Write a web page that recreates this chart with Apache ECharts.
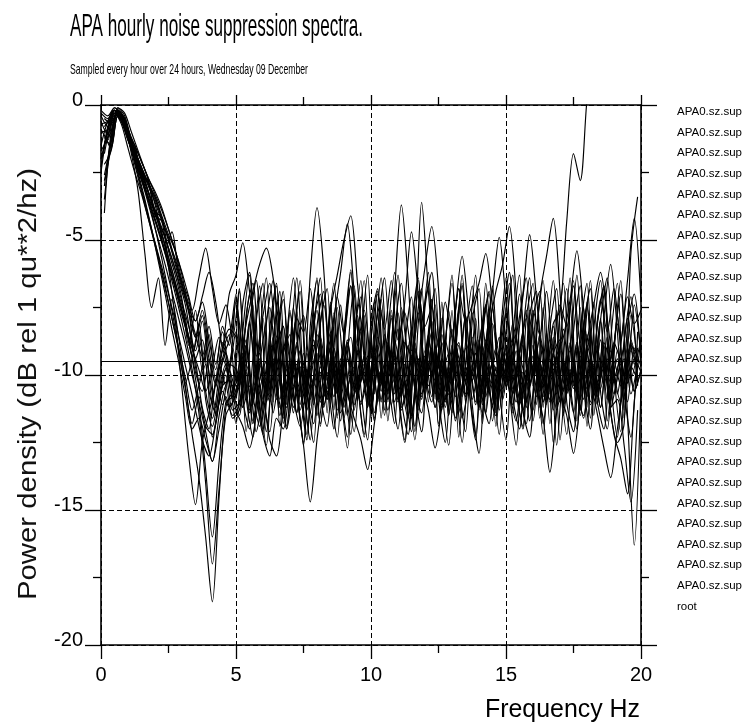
<!DOCTYPE html>
<html><head><meta charset="utf-8">
<script src="https://cdn.jsdelivr.net/npm/echarts@6/dist/echarts.min.js"></script>
<style>html,body{margin:0;padding:0;background:#fff}#c{width:748px;height:724px}</style>
</head><body><div id="c"></div>
<script>
// frequency grids (Hz): hours alternate between two sampling grids
const freqA = [0,0.25,0.5,0.75,1,1.25,1.5,1.75,2,2.25,2.5,2.75,3,3.25,3.5,3.75,4,4.25,4.5,4.75,5,5.25,5.5,5.75,6,6.25,6.5,6.75,7,7.25,7.5,7.75,8,8.25,8.5,8.75,9,9.25,9.5,9.75,10,10.25,10.5,10.75,11,11.25,11.5,11.75,12,12.25,12.5,12.75,13,13.25,13.5,13.75,14,14.25,14.5,14.75,15,15.25,15.5,15.75,16,16.25,16.5,16.75,17,17.25,17.5,17.75,18,18.25,18.5,18.75,19,19.25,19.5,19.75,20];
const freqB = [0.125,0.375,0.625,0.875,1.125,1.375,1.625,1.875,2.125,2.375,2.625,2.875,3.125,3.375,3.625,3.875,4.125,4.375,4.625,4.875,5.125,5.375,5.625,5.875,6.125,6.375,6.625,6.875,7.125,7.375,7.625,7.875,8.125,8.375,8.625,8.875,9.125,9.375,9.625,9.875,10.125,10.375,10.625,10.875,11.125,11.375,11.625,11.875,12.125,12.375,12.625,12.875,13.125,13.375,13.625,13.875,14.125,14.375,14.625,14.875,15.125,15.375,15.625,15.875,16.125,16.375,16.625,16.875,17.125,17.375,17.625,17.875,18.125,18.375,18.625,18.875,19.125,19.375,19.625,19.875];

// power density (dB) per hour
const h01 = [-2.5,-0.9,-0.2,-0.5,-1.3,-2.0,-2.7,-3.4,-4.0,-4.6,-5.3,-6.1,-7.2,-8.9,-7.6,-9.8,-8.5,-10.2,-9.0,-8.3,
 -8.6,-10.2,-8.1,-9.9,-7.9,-10.8,-9.0,-8.2,-10.4,-8.8,-11.1,-9.3,-7.6,-9.8,-8.4,-10.6,-8.9,-9.7,-7.8,-10.3,
 -9.1,-11.0,-8.5,-9.6,-7.7,-10.1,-8.3,-10.9,-9.4,-8.0,-10.5,-8.7,-9.9,-7.5,-10.2,-8.6,-11.2,-9.0,-8.1,-10.0,
 -8.4,-10.7,-9.2,-7.9,-10.4,-8.5,-9.8,-8.1,-7.6,-4.3,-1.8,-2.8,0.2,2.0,3.0,3.5,4.0,4.0,4.5,4.5,5.0];
const h02 = [-3.0,-1.2,-0.1,-0.3,-1.0,-1.7,-2.4,-3.2,-4.2,-5.4,-4.7,-6.2,-7.0,-7.6,-6.4,-5.3,-6.8,-8.1,-7.4,-8.6,
 -6.8,-10.9,-7.4,-11.6,-8.1,-6.5,-10.2,-12.0,-8.6,-6.9,-10.8,-7.7,-11.9,-9.0,-6.6,-10.5,-12.3,-8.4,-7.1,-11.2,
 -8.9,-6.4,-10.0,-11.8,-7.5,-9.6,-12.1,-8.2,-6.7,-10.7,-7.9,-11.5,-9.3,-6.3,-10.4,-12.4,-8.5,-7.0,-11.0,-8.0,
 -6.2,-10.6,-11.9,-7.6,-9.4,-12.2,-8.3,-6.8,-10.3,-7.4,-11.7,-9.1,-6.5,-10.9,-12.0,-8.7,-6.6,-11.3,-7.8,-9.5];
const h03 = [-1.5,-0.6,-0.2,-0.6,-1.3,-1.9,-2.4,-2.9,-3.4,-4.1,-4.8,-5.4,-6.3,-7.5,-8.0,-7.1,-6.2,-7.3,-8.9,-7.0,
 -6.3,-5.1,-6.9,-8.8,-10.4,-8.9,-10.9,-9.2,-8.5,-10.6,-9.7,-11.4,-8.8,-10.1,-9.0,-11.3,-9.6,-8.6,-10.5,-9.3,
 -11.0,-8.9,-10.3,-9.8,-8.3,-10.8,-9.4,-11.5,-9.1,-10.0,-8.6,-10.9,-9.5,-8.8,-10.7,-9.9,-11.2,-8.7,-9.6,-10.4,
 -8.9,-11.1,-9.3,-10.2,-8.4,-9.9,-11.0,-9.2,-8.7,-10.6,-9.5,-11.3,-8.9,-9.8,-10.5,-8.6,-10.1,-9.4,-11.0,-9.0,-9.7];
const h04 = [-0.8,-0.5,-0.3,-0.7,-1.6,-2.4,-3.1,-3.9,-4.6,-5.4,-6.3,-7.2,-8.1,-9.0,-9.8,-10.6,-9.7,-8.6,-9.5,-10.4,
 -9.6,-8.1,-6.9,-5.9,-5.3,-6.4,-8.5,-10.6,-9.4,-11.3,-10.0,-8.9,-10.8,-11.9,-9.7,-10.5,-8.8,-11.1,-10.2,-9.3,
 -11.4,-9.9,-10.7,-8.7,-10.3,-11.6,-9.5,-10.9,-9.0,-11.2,-10.1,-9.2,-11.7,-10.4,-9.6,-11.0,-8.9,-10.6,-11.5,-9.8,
 -10.2,-9.1,-11.3,-10.5,-9.4,-11.8,-10.0,-9.7,-11.1,-8.9,-10.4,-11.6,-9.5,-10.8,-9.3,-11.2,-10.1,-9.0,-10.7,-9.6];
const h05 = [-2.0,-1.0,-0.2,-0.4,-1.2,-1.6,-2.6,-2.9,-3.9,-4.2,-5.4,-6.3,-7.3,-8.2,-9.1,-8.0,-9.9,-11.2,-9.4,-8.7,
 -7.0,-11.2,-8.1,-6.5,-10.6,-12.1,-8.8,-6.9,-11.4,-7.6,-10.3,-6.3,-3.8,-6.1,-10.4,-12.3,-8.5,-6.7,-10.9,-7.8,
 -11.6,-8.3,-6.4,-10.1,-12.0,-8.9,-7.1,-11.3,-7.5,-6.2,-10.8,-12.5,-9.0,-6.8,-11.0,-7.7,-10.2,-6.6,-9.8,-12.2,
 -8.4,-6.3,-10.5,-11.8,-7.9,-6.9,-11.1,-8.6,-12.4,-9.2,-6.5,-10.7,-7.3,-11.5,-8.0,-6.4,-10.0,-12.1,-8.2,-7.0,-9.6];
const h06 = [-1.2,-1.5,-0.4,-0.6,-1.4,-2.2,-2.9,-3.6,-4.2,-4.9,-5.7,-6.5,-7.4,-8.9,-10.2,-9.1,-11.0,-9.6,-10.4,-9.0,
 -10.4,-8.9,-11.1,-9.5,-10.2,-8.6,-10.9,-9.8,-11.4,-9.1,-10.0,-8.7,-10.6,-9.3,-7.9,-6.2,-4.4,-6.9,-9.6,-10.8,
 -9.2,-11.0,-8.8,-10.3,-9.7,-11.5,-9.0,-10.1,-8.5,-10.7,-9.4,-11.2,-8.9,-9.9,-10.6,-8.7,-10.4,-9.6,-11.3,-9.1,
 -10.0,-8.6,-10.9,-9.3,-10.5,-11.6,-13.6,-11.4,-9.5,-10.8,-8.8,-10.2,-9.7,-11.1,-8.9,-10.3,-9.4,-10.9,-8.7,-9.8];
const h07 = [-0.6,-1.1,-0.3,-0.5,-1.1,-1.7,-2.3,-2.9,-3.4,-4.2,-5.0,-5.7,-6.6,-7.7,-8.6,-7.8,-9.4,-10.3,-8.8,-9.7,
 -8.4,-9.9,-8.0,-10.3,-8.7,-7.5,-9.6,-8.2,-10.4,-8.9,-7.8,-9.7,-8.5,-10.1,-7.6,-6.3,-5.0,-4.1,-6.6,-9.2,
 -10.3,-8.6,-9.8,-7.9,-10.5,-8.8,-9.3,-7.7,-10.0,-8.4,-9.6,-11.0,-8.3,-9.5,-7.8,-10.2,-8.9,-7.4,-9.7,-8.6,
 -10.4,-8.1,-9.2,-7.6,-10.0,-8.7,-9.9,-8.2,-10.6,-11.5,-12.9,-10.9,-8.5,-9.7,-8.0,-10.3,-8.8,-9.4,-7.9,-9.6,-8.7];
const h08 = [-2.8,-1.6,-0.1,-0.4,-1.3,-2.1,-2.8,-3.6,-4.4,-5.2,-6.1,-7.0,-7.9,-9.3,-8.1,-10.6,-11.6,-10.1,-9.2,-10.5,
 -11.5,-7.8,-6.6,-10.4,-12.6,-8.7,-6.9,-11.1,-7.5,-10.0,-12.2,-8.3,-6.4,-10.8,-7.9,-11.7,-9.2,-6.7,-10.5,-12.4,
 -8.6,-7.2,-11.0,-6.9,-3.7,-6.5,-10.6,-12.1,-8.4,-6.8,-11.3,-7.6,-10.1,-12.5,-8.9,-6.3,-10.7,-7.7,-11.9,-9.0,
 -6.6,-10.3,-12.0,-7.8,-6.9,-11.2,-8.5,-12.6,-9.4,-6.4,-10.9,-7.5,-11.6,-8.2,-6.7,-10.2,-12.3,-8.8,-7.1,-10.4];
const h09 = [-0.4,-0.8,-0.2,-0.5,-1.2,-1.5,-2.6,-2.8,-4.1,-4.3,-5.8,-6.7,-7.6,-8.6,-9.5,-11.2,-12.0,-10.3,-11.1,-9.8,
 -10.6,-9.2,-11.3,-9.8,-10.9,-8.9,-10.4,-11.6,-9.5,-10.8,-12.6,-14.7,-12.4,-10.5,-9.0,-10.7,-9.4,-11.2,-9.1,-10.3,
 -8.8,-10.9,-9.6,-11.1,-9.2,-7.3,-4.7,-7.0,-9.9,-11.0,-9.3,-10.6,-8.9,-11.4,-9.7,-10.2,-8.7,-10.8,-9.5,-11.3,
 -9.0,-10.5,-9.8,-11.2,-8.9,-10.1,-9.4,-11.0,-8.8,-10.7,-9.6,-11.5,-9.2,-10.3,-8.7,-10.9,-9.5,-10.4,-9.0,-10.6,-9.8];
const h10 = [-1.8,-0.7,-0.3,-0.8,-1.7,-2.7,-3.7,-4.7,-5.7,-6.8,-7.9,-9.0,-10.1,-11.3,-10.4,-9.6,-12.3,-11.0,-10.0,-11.3,
 -11.0,-9.6,-10.8,-11.9,-10.2,-9.4,-11.5,-10.0,-11.2,-9.5,-10.7,-11.8,-9.9,-10.9,-9.3,-11.4,-10.5,-9.7,-11.1,-10.2,
 -11.7,-9.8,-10.6,-9.4,-11.3,-10.1,-8.4,-3.6,-6.9,-9.9,-11.2,-10.3,-9.5,-11.6,-10.4,-9.2,-10.9,-11.8,-9.7,-10.5,
 -9.3,-11.0,-10.2,-11.7,-9.6,-10.8,-9.4,-11.3,-10.0,-9.1,-10.7,-11.5,-9.8,-10.6,-9.5,-11.2,-10.9,-12.6,-14.7,-11.3];
const h11 = [-0.3,-0.5,-0.2,-0.4,-1.0,-1.7,-2.3,-2.9,-3.5,-4.2,-5.0,-5.9,-6.8,-7.6,-8.5,-9.3,-8.2,-9.6,-8.4,-9.9,
 -7.1,-10.9,-12.0,-8.0,-6.6,-10.7,-7.8,-11.8,-9.1,-6.4,-10.3,-12.4,-8.2,-6.9,-11.1,-7.5,-10.0,-12.2,-8.7,-6.5,
 -10.6,-7.7,-11.5,-8.9,-6.3,-10.2,-12.1,-8.1,-6.0,-4.5,-6.8,-11.0,-7.6,-12.3,-8.8,-6.7,-10.5,-7.4,-11.7,-9.0,
 -6.4,-10.8,-12.0,-7.9,-6.6,-11.2,-8.4,-12.5,-8.9,-6.8,-10.4,-7.5,-11.9,-8.3,-6.5,-10.1,-12.2,-13.1,-14.4,-11.0,-8.6];
const h12 = [-3.5,-1.3,-0.3,-0.5,-1.5,-2.5,-3.5,-4.6,-5.8,-7.0,-8.3,-9.5,-10.8,-12.0,-11.6,-12.4,-13.2,-11.5,-10.4,-11.6,
 -11.3,-9.9,-11.8,-10.4,-12.1,-10.0,-11.2,-9.6,-10.9,-11.9,-10.3,-9.5,-11.0,-10.6,-12.0,-9.8,-10.7,-11.6,-12.4,-13.5,
 -11.8,-10.1,-11.3,-9.4,-10.8,-8.9,-10.5,-11.4,-9.6,-10.2,-8.8,-10.6,-7.6,-5.6,-7.8,-10.0,-11.4,-9.7,-10.9,-9.2,
 -10.6,-11.7,-9.9,-10.3,-8.9,-11.0,-10.1,-9.3,-11.2,-9.8,-10.7,-9.0,-11.1,-10.4,-9.5,-10.9,-9.1,-10.5,-9.7,-10.2];
const h13 = [-1.0,-0.9,-0.2,-0.3,-0.9,-1.5,-2.1,-2.7,-3.3,-3.9,-4.6,-5.4,-6.2,-7.1,-8.0,-7.3,-8.7,-9.8,-8.2,-8.9,
 -7.3,-8.9,-7.0,-9.3,-7.8,-6.6,-8.6,-7.2,-9.5,-7.9,-8.4,-6.8,-8.8,-7.4,-9.2,-7.1,-8.5,-6.7,-8.9,-7.6,
 -9.4,-7.0,-8.3,-6.5,-8.7,-7.7,-9.1,-6.9,-8.2,-7.5,-9.0,-7.3,-8.6,-6.8,-8.0,-7.4,-6.6,-5.5,-7.4,-9.2,
 -7.8,-8.9,-7.0,-9.4,-7.6,-8.5,-6.9,-9.0,-7.4,-8.2,-6.7,-8.8,-7.5,-9.3,-7.2,-8.4,-6.8,-8.7,-7.1,-8.1,-7.6];
const h14 = [-2.2,-1.7,-0.4,-0.7,-1.6,-2.6,-3.6,-4.6,-5.6,-6.7,-7.9,-9.1,-10.5,-11.8,-10.8,-11.9,-12.2,-11.0,-9.8,-10.9,
 -8.2,-12.1,-9.4,-6.7,-10.8,-7.5,-11.9,-8.6,-6.4,-10.3,-12.4,-8.0,-7.0,-11.4,-7.7,-10.6,-12.7,-8.9,-6.5,-10.1,
 -7.3,-11.6,-8.4,-6.2,-10.9,-12.2,-8.7,-6.8,-11.0,-7.4,-10.5,-12.6,-9.1,-6.6,-10.2,-7.9,-11.8,-8.3,-6.9,-5.9,
 -4.5,-7.0,-11.3,-12.3,-8.5,-6.5,-10.7,-7.6,-11.5,-9.2,-6.3,-10.4,-12.0,-8.1,-6.8,-11.1,-7.8,-10.6,-12.3,-8.4];
const h15 = [-0.9,-1.3,-0.3,-0.6,-1.3,-2.0,-2.8,-3.5,-4.3,-5.1,-5.9,-6.8,-7.8,-8.7,-9.9,-10.6,-9.4,-11.5,-10.1,-9.6,
 -9.8,-11.2,-10.4,-12.1,-11.0,-12.4,-13.0,-11.3,-10.1,-11.4,-9.6,-10.9,-9.2,-11.1,-10.3,-9.5,-11.6,-10.0,-10.8,-9.3,
 -11.2,-9.9,-10.6,-9.1,-10.9,-10.2,-11.5,-9.4,-10.7,-9.0,-11.0,-9.8,-10.4,-8.9,-10.8,-9.6,-11.3,-8.8,-6.9,-4.9,
 -7.3,-9.6,-11.1,-10.2,-11.7,-9.5,-10.6,-9.2,-11.0,-10.1,-11.4,-9.3,-10.5,-9.9,-11.2,-9.0,-10.7,-9.6,-10.3,-9.4,-9.9];
const h16 = [-1.4,-1.0,-0.2,-0.5,-1.4,-2.2,-3.1,-4.0,-5.1,-6.3,-7.6,-9.0,-10.3,-9.4,-8.4,-10.9,-11.9,-10.5,-9.6,-10.8,
 -10.2,-8.9,-10.8,-9.4,-11.0,-9.7,-8.6,-10.5,-9.2,-11.1,-9.8,-10.4,-8.8,-10.9,-9.5,-10.1,-8.7,-10.6,-9.3,-11.2,
 -9.6,-10.3,-8.9,-10.7,-9.4,-11.0,-9.1,-10.2,-11.3,-12.7,-11.2,-9.7,-10.8,-8.9,-10.4,-9.6,-11.1,-9.0,-10.5,-9.2,
 -10.0,-8.6,-7.0,-4.8,-7.1,-9.7,-10.9,-9.3,-10.6,-8.8,-10.2,-9.5,-11.0,-8.9,-10.4,-9.1,-10.7,-9.4,-10.1,-9.0];
const h17 = [-0.7,-0.6,-0.1,-0.3,-1.0,-1.5,-2.1,-2.7,-3.2,-3.8,-4.6,-5.4,-6.5,-7.2,-8.6,-7.6,-9.0,-10.4,-9.1,-8.5,
 -10.9,-7.4,-6.2,-10.1,-12.0,-8.3,-6.6,-11.2,-7.7,-10.4,-12.5,-8.8,-6.4,-10.7,-7.3,-11.6,-8.5,-6.1,-10.2,-12.2,
 -8.0,-6.8,-11.0,-7.6,-10.5,-12.4,-8.7,-6.5,-10.9,-7.2,-11.8,-8.9,-6.3,-10.3,-7.8,-11.1,-12.9,-9.3,-6.7,-10.6,
 -7.5,-11.4,-8.2,-6.4,-10.0,-7.1,-5.6,-4.2,-6.9,-11.0,-12.1,-8.4,-6.6,-10.8,-7.9,-11.7,-9.0,-6.5,-10.3,-7.4,-9.2];
const h18 = [-2.6,-1.4,-0.3,-0.6,-1.5,-2.3,-3.2,-4.1,-5.0,-5.9,-6.9,-7.9,-8.9,-10.0,-11.0,-12.1,-13.2,-12.0,-10.8,-11.5,
 -11.1,-9.8,-11.7,-10.2,-9.5,-11.4,-10.0,-12.0,-10.6,-9.7,-11.3,-10.1,-11.8,-9.9,-10.8,-9.4,-11.5,-10.3,-11.0,-9.6,
 -11.6,-10.0,-10.9,-9.3,-11.2,-10.5,-11.9,-9.8,-10.4,-9.5,-11.1,-10.7,-11.6,-9.7,-10.3,-9.2,-10.9,-10.1,-11.4,-9.6,
 -10.5,-9.9,-11.3,-9.4,-10.8,-9.7,-11.0,-9.3,-8.6,-7.2,-5.4,-7.6,-10.1,-11.4,-12.7,-13.8,-12.0,-10.2,-9.1,-9.8];
const h19 = [-1.7,-1.2,-0.2,-0.4,-1.2,-1.8,-2.4,-3.0,-3.6,-4.3,-4.9,-5.8,-6.7,-7.6,-9.4,-8.7,-10.6,-11.4,-10.4,-10.2,
 -11.3,-11.9,-12.7,-11.5,-10.1,-11.0,-9.4,-10.8,-9.7,-11.4,-9.2,-10.5,-9.9,-11.2,-9.5,-10.7,-9.0,-11.1,-10.2,-9.6,
 -11.3,-9.8,-10.4,-9.1,-10.9,-9.6,-11.5,-10.0,-9.3,-10.8,-9.7,-11.2,-9.4,-10.5,-9.0,-10.9,-9.8,-11.4,-9.5,-10.1,
 -9.2,-10.7,-9.6,-11.0,-9.3,-10.6,-9.8,-11.3,-9.1,-10.4,-9.7,-10.9,-8.8,-7.4,-6.2,-7.9,-9.9,-11.0,-9.5,-10.6,-9.8];
const h20 = [-0.5,-0.7,-0.2,-0.5,-1.3,-2.0,-2.8,-3.6,-4.4,-5.2,-6.1,-7.1,-8.2,-9.4,-11.0,-13.5,-16.0,-13.2,-11.0,-10.8,
 -6.9,-10.8,-12.3,-8.6,-6.4,-11.0,-7.7,-11.9,-9.2,-6.5,-10.5,-12.5,-8.1,-6.8,-11.3,-7.4,-10.2,-12.1,-8.9,-6.3,
 -10.7,-7.6,-11.7,-8.4,-6.6,-10.0,-12.4,-8.8,-6.2,-10.9,-7.3,-11.5,-9.0,-6.7,-10.4,-12.2,-8.3,-6.9,-11.2,-7.8,
 -10.6,-12.6,-8.5,-6.4,-11.1,-7.5,-11.8,-9.3,-6.6,-10.3,-12.0,-8.2,-6.8,-10.9,-7.9,-5.9,-8.4,-11.6,-8.8,-10.1];
const h21 = [-2.3,-0.8,-0.3,-0.7,-1.6,-2.5,-3.3,-4.2,-5.1,-6.0,-7.0,-8.0,-9.1,-10.2,-11.3,-12.4,-13.0,-11.8,-10.6,-11.2,
 -10.7,-9.5,-11.4,-10.3,-12.2,-13.0,-11.6,-12.0,-10.4,-9.6,-11.1,-10.0,-11.5,-9.3,-10.8,-9.8,-11.2,-9.5,-10.6,-9.9,
 -11.3,-9.2,-10.7,-9.6,-11.0,-10.3,-11.6,-9.4,-10.5,-9.0,-10.9,-9.7,-11.4,-9.5,-10.2,-9.1,-10.8,-9.9,-11.1,-9.6,
 -10.4,-9.2,-10.9,-9.8,-11.3,-9.5,-10.6,-9.3,-11.0,-9.7,-10.5,-9.1,-10.8,-9.6,-11.2,-9.4,-10.3,-8.9,-6.5,-4.2,-7.3];
const h22 = [-1.1,-1.6,-0.4,-0.6,-1.4,-2.2,-3.0,-3.8,-4.6,-5.5,-6.5,-7.5,-8.6,-9.8,-11.4,-14.0,-17.0,-14.2,-11.5,-11.0,
 -10.4,-9.1,-11.0,-9.6,-10.7,-8.9,-10.3,-11.2,-9.5,-10.8,-9.2,-11.1,-9.7,-10.5,-9.0,-10.9,-9.4,-11.3,-9.8,-10.2,
 -9.1,-10.6,-9.5,-11.0,-9.3,-10.4,-8.8,-10.7,-9.6,-11.2,-9.4,-10.1,-9.0,-10.8,-9.7,-11.1,-9.2,-10.5,-9.8,-10.9,
 -9.3,-10.6,-8.9,-10.3,-9.6,-11.0,-9.1,-10.7,-9.5,-10.2,-8.8,-10.9,-9.4,-10.5,-9.7,-11.4,-12.5,-11.8,-5.5,-3.4];
const h23 = [-0.2,-0.4,-0.1,-0.4,-1.1,-1.8,-2.5,-3.2,-3.9,-4.7,-6.0,-8.0,-10.5,-13.0,-14.8,-12.5,-11.4,-10.3,-9.4,-10.2,
 -11.8,-8.4,-6.3,-10.6,-12.2,-8.9,-6.7,-11.1,-7.6,-10.3,-12.6,-8.2,-6.5,-10.8,-7.4,-11.5,-9.0,-6.2,-10.1,-12.3,
 -8.7,-6.9,-11.3,-7.8,-10.7,-12.5,-8.3,-6.4,-10.4,-7.2,-11.9,-8.8,-6.6,-10.2,-12.1,-8.0,-6.8,-11.4,-7.5,-10.5,
 -12.4,-8.6,-6.3,-10.9,-7.7,-11.6,-9.1,-6.5,-10.0,-12.2,-8.4,-6.7,-11.2,-7.3,-10.6,-12.0,-8.9,-7.0,-11.5,-16.3,-10.4];
const h24 = [-4.0,-1.0,-0.3,-0.7,-1.8,-3.2,-5.5,-7.5,-6.4,-8.9,-7.2,-8.6,-10.4,-12.2,-13.8,-16.0,-18.4,-14.5,-11.2,-10.6,
 -10.0,-8.7,-10.6,-9.2,-10.9,-8.9,-9.8,-8.5,-10.4,-9.1,-10.8,-9.5,-8.6,-10.2,-9.0,-10.7,-8.8,-9.9,-8.4,-10.5,
 -9.3,-10.9,-8.9,-9.6,-8.3,-10.1,-9.4,-10.8,-8.7,-9.7,-8.5,-10.3,-9.2,-10.6,-8.8,-9.5,-8.2,-10.0,-9.0,-10.7,
 -8.6,-9.8,-8.4,-10.4,-9.1,-10.2,-8.7,-9.6,-8.3,-10.5,-9.0,-9.9,-8.5,-10.3,-8.8,-9.4,-8.1,-10.0,-8.9,-9.3];

const spectra = [h01,h02,h03,h04,h05,h06,h07,h08,h09,h10,h11,h12,h13,h14,h15,h16,h17,h18,h19,h20,h21,h22,h23,h24];
const grids   = [freqA,freqB,freqA,freqB,freqA,freqB,freqA,freqB,freqA,freqB,freqA,freqB,freqA,freqB,freqA,freqB,freqA,freqB,freqA,freqB,freqA,freqB,freqA,freqB];
const spectrumLabel = 'APA0.sz.sup';
const rootLabel = 'root';
const rootFreq = [0, 20];
const rootLevel = [-9.5, -9.5];
const xRange = [0, 20];
const yRange = [-20, 0];

const titleText = 'APA hourly noise suppression spectra.';
const subtitleText = 'Sampled every hour over 24 hours, Wednesday 09 December';
const xName = 'Frequency Hz';
const yName = 'Power density (dB rel 1 qu**2/hz)';

const FONT = "'Liberation Sans', Arial, sans-serif";
const BLACK = '#000';

const mctx = document.createElement('canvas').getContext('2d');
function fitScale(text, size, target) {
  mctx.font = size + "px 'Liberation Sans', Arial, sans-serif";
  return target / mctx.measureText(text).width;
}

const series = spectra.map((vals, k) => {
  const g = grids[k];
  const n = Math.min(g.length, vals.length);
  const data = [];
  for (let i = 0; i < n; i++) data.push([g[i], vals[i]]);
  return {
    name: spectrumLabel + '#' + (k + 1),
    type: 'line', data, showSymbol: false, smooth: 0.3,
    lineStyle: { color: BLACK, width: 1.15 }, itemStyle: { color: BLACK },
    clip: true, silent: true
  };
});
series.push({
  name: rootLabel, type: 'line', showSymbol: false,
  data: rootFreq.map((f, i) => [f, rootLevel[i]]),
  lineStyle: { color: BLACK, width: 1.2 }, itemStyle: { color: BLACK }, silent: true
});

const tickStyle = { color: BLACK, width: 1.3 };
function axis(extra) {
  return Object.assign({
    type: 'value', interval: 5,
    axisLine: { show: true, onZero: false, lineStyle: { color: BLACK, width: 1.6 } },
    minorSplitLine: { show: false }
  }, extra);
}

const option = {
  animation: false,
  backgroundColor: '#fff',
  grid: { left: 101, right: 107, top: 105, bottom: 79, containLabel: false },
  legend: {
    orient: 'vertical', left: 667, top: 100, icon: 'none', itemWidth: 0, itemHeight: 14, itemGap: 6.6,
    selectedMode: false, data: series.map(s => s.name),
    formatter: n => n.split('#')[0],
    textStyle: { fontFamily: FONT, fontSize: 11.5, lineHeight: 14, color: BLACK }
  },
  xAxis: [
    axis({ min: xRange[0], max: xRange[1], position: 'bottom',
      axisTick: { show: true, length: 14, lineStyle: tickStyle },
      minorTick: { show: true, splitNumber: 2, length: 8, lineStyle: tickStyle },
      axisLabel: { margin: 20, fontFamily: FONT, fontSize: 20, color: BLACK },
      splitLine: { show: true, lineStyle: { color: BLACK, type: [5, 3], width: 1 } } }),
    axis({ min: xRange[0], max: xRange[1], position: 'top',
      axisTick: { show: true, length: 10, lineStyle: tickStyle },
      minorTick: { show: true, splitNumber: 2, length: 8, lineStyle: tickStyle },
      axisLabel: { show: false }, splitLine: { show: false } })
  ],
  yAxis: [
    axis({ min: yRange[0], max: yRange[1], position: 'left',
      axisTick: { show: true, length: 16, lineStyle: tickStyle },
      minorTick: { show: true, splitNumber: 2, length: 8, lineStyle: tickStyle },
      axisLabel: { margin: 18, fontFamily: FONT, fontSize: 20, color: BLACK, verticalAlign: 'bottom', lineHeight: 10 },
      splitLine: { show: true, lineStyle: { color: BLACK, type: [5, 3], width: 1 } } }),
    axis({ min: yRange[0], max: yRange[1], position: 'right',
      axisTick: { show: true, length: 16, lineStyle: tickStyle },
      minorTick: { show: true, splitNumber: 2, length: 8, lineStyle: tickStyle },
      axisLabel: { show: false }, splitLine: { show: false } })
  ],
  graphic: [
    { type: 'text', x: 70, y: 11, scaleX: fitScale(titleText, 32, 293),
      style: { text: titleText, fontFamily: FONT, fontSize: 32, fill: BLACK, align: 'left', verticalAlign: 'top' } },
    { type: 'text', x: 70, y: 62, scaleX: fitScale(subtitleText, 15, 238),
      style: { text: subtitleText, fontFamily: FONT, fontSize: 15, fill: BLACK, align: 'left', verticalAlign: 'top' } },
    { type: 'text', x: 640, y: 697, scaleX: fitScale(xName, 26, 155),
      style: { text: xName, fontFamily: FONT, fontSize: 26, fill: BLACK, align: 'right', verticalAlign: 'top' } },
    { type: 'text', x: 29, y: 384, rotation: Math.PI / 2, scaleX: fitScale(yName, 26, 432),
      style: { text: yName, fontFamily: FONT, fontSize: 26, fill: '#111', align: 'center', verticalAlign: 'middle' } }
  ],
  series
};

const chart = echarts.init(document.getElementById('c'), null, { renderer: 'canvas' });
chart.setOption(option);
</script>
</body></html>
